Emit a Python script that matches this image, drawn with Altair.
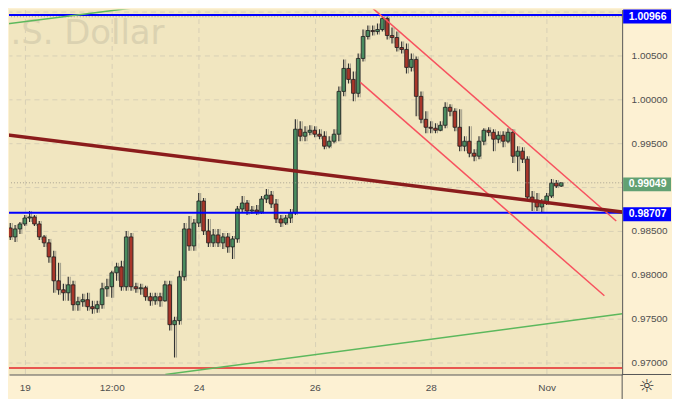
import altair as alt
import pandas as pd

# ---- candle data (2-hour bars; t = hours from 19 Oct 00:00, trading time) ----
t_hours = list(range(-6, 224, 2))

opens = [
    0.98533, 0.98431, 0.98522, 0.98579, 0.98647, 0.98659, 0.98579, 0.98431, 0.98363, 0.98203,
    0.97930, 0.97827, 0.97793, 0.97884, 0.97657, 0.97691, 0.97714, 0.97634, 0.97611, 0.97657,
    0.97839, 0.97862, 0.98021, 0.98089, 0.97862, 0.98431, 0.97862, 0.97839, 0.97850, 0.97748,
    0.97702, 0.97748, 0.97702, 0.97884, 0.97429, 0.97475, 0.97976, 0.98522, 0.98328, 0.98590,
    0.98841, 0.98499, 0.98363, 0.98454, 0.98363, 0.98431, 0.98317, 0.98408, 0.98750, 0.98818,
    0.98727, 0.98738, 0.98716, 0.98864, 0.98909, 0.98807, 0.98636, 0.98590, 0.98647, 0.98704,
    0.99661, 0.99581, 0.99626, 0.99649, 0.99604, 0.99581, 0.99467, 0.99524, 0.99604, 1.00093,
    1.00355, 1.00230, 1.00071, 1.00469, 1.00720, 1.00788, 1.00776, 1.00799, 1.00924, 1.00731,
    1.00708, 1.00594, 1.00572, 1.00367, 1.00458, 1.00036, 0.99774, 0.99683, 0.99672, 0.99649,
    0.99706, 0.99911, 0.99866, 0.99683, 0.99467, 0.99524, 0.99387, 0.99353, 0.99524, 0.99649,
    0.99626, 0.99547, 0.99592, 0.99524, 0.99626, 0.99353, 0.99410, 0.99319, 0.98886, 0.98852,
    0.98773, 0.98829, 0.98898, 0.99046, 0.99012,
]
highs = [
    0.98590, 0.98568, 0.98602, 0.98681, 0.98727, 0.98681, 0.98613, 0.98454, 0.98408, 0.98272,
    0.98135, 0.97896, 0.97976, 0.97930, 0.97748, 0.97782, 0.97793, 0.97702, 0.97702, 0.97907,
    0.97953, 0.98044, 0.98135, 0.98158, 0.98499, 0.98476, 0.97907, 0.97896, 0.97873, 0.97793,
    0.97793, 0.97793, 0.97930, 0.97930, 0.97520, 0.98044, 0.98590, 0.98670, 0.98636, 0.98932,
    0.98875, 0.98636, 0.98522, 0.98522, 0.98476, 0.98476, 0.98442, 0.98784, 0.98898, 0.98852,
    0.98784, 0.98795, 0.98898, 0.98977, 0.98955, 0.98864, 0.98681, 0.98681, 0.98750, 0.99774,
    0.99752, 0.99695, 0.99706, 0.99695, 0.99661, 0.99638, 0.99581, 0.99661, 1.00150, 1.00458,
    1.00412, 1.00321, 1.00526, 1.00799, 1.00845, 1.00845, 1.00868, 1.00966, 1.00947, 1.00822,
    1.00776, 1.00663, 1.00640, 1.00526, 1.00492, 1.00093, 0.99866, 0.99752, 0.99729, 0.99752,
    0.99968, 0.99945, 0.99900, 0.99888, 0.99581, 0.99695, 0.99433, 0.99581, 0.99672, 0.99683,
    0.99661, 0.99638, 0.99638, 0.99672, 0.99661, 0.99467, 0.99456, 0.99353, 0.98955, 0.98932,
    0.98864, 0.98932, 0.99091, 0.99080, 0.99057,
]
lows = [
    0.98397, 0.98374, 0.98465, 0.98556, 0.98602, 0.98556, 0.98397, 0.98317, 0.98135, 0.97793,
    0.97771, 0.97702, 0.97702, 0.97588, 0.97588, 0.97634, 0.97588, 0.97554, 0.97566, 0.97611,
    0.97748, 0.97736, 0.97930, 0.97816, 0.97816, 0.97816, 0.97793, 0.97771, 0.97702, 0.97645,
    0.97657, 0.97634, 0.97691, 0.97361, 0.97053, 0.97429, 0.97930, 0.98272, 0.98272, 0.98545,
    0.98454, 0.98317, 0.98317, 0.98317, 0.98294, 0.98249, 0.98180, 0.98363, 0.98716, 0.98681,
    0.98693, 0.98681, 0.98693, 0.98818, 0.98761, 0.98590, 0.98545, 0.98568, 0.98590, 0.98681,
    0.99524, 0.99524, 0.99592, 0.99570, 0.99547, 0.99433, 0.99444, 0.99501, 0.99524, 1.00036,
    1.00184, 0.99979, 1.00025, 1.00435, 1.00685, 1.00731, 1.00742, 1.00776, 1.00685, 1.00640,
    1.00549, 1.00526, 1.00298, 1.00321, 0.99809, 0.99729, 0.99615, 0.99615, 0.99615, 0.99638,
    0.99672, 0.99809, 0.99638, 0.99410, 0.99410, 0.99342, 0.99296, 0.99319, 0.99478, 0.99581,
    0.99410, 0.99501, 0.99456, 0.99501, 0.99274, 0.99182, 0.99274, 0.98841, 0.98727, 0.98727,
    0.98704, 0.98795, 0.98875, 0.98989, 0.99000,
]
closes = [
    0.98431, 0.98522, 0.98579, 0.98647, 0.98659, 0.98579, 0.98431, 0.98363, 0.98203, 0.97930,
    0.97827, 0.97793, 0.97884, 0.97657, 0.97691, 0.97714, 0.97634, 0.97611, 0.97657, 0.97839,
    0.97862, 0.98021, 0.98089, 0.97862, 0.98431, 0.97862, 0.97839, 0.97850, 0.97748, 0.97702,
    0.97748, 0.97702, 0.97884, 0.97429, 0.97475, 0.97976, 0.98522, 0.98328, 0.98590, 0.98841,
    0.98499, 0.98363, 0.98454, 0.98363, 0.98431, 0.98317, 0.98408, 0.98750, 0.98818, 0.98727,
    0.98738, 0.98716, 0.98864, 0.98909, 0.98807, 0.98636, 0.98590, 0.98647, 0.98704, 0.99661,
    0.99581, 0.99626, 0.99649, 0.99604, 0.99581, 0.99467, 0.99524, 0.99604, 1.00093, 1.00355,
    1.00230, 1.00071, 1.00469, 1.00720, 1.00788, 1.00776, 1.00799, 1.00924, 1.00731, 1.00708,
    1.00594, 1.00572, 1.00367, 1.00458, 1.00036, 0.99774, 0.99683, 0.99672, 0.99649, 0.99706,
    0.99911, 0.99866, 0.99683, 0.99467, 0.99524, 0.99387, 0.99353, 0.99524, 0.99649, 0.99626,
    0.99547, 0.99592, 0.99524, 0.99626, 0.99353, 0.99410, 0.99319, 0.98886, 0.98852, 0.98773,
    0.98829, 0.98898, 0.99046, 0.99012, 0.99049,
]

# ---- drawn objects (endpoints in time/price) ----
trend_maroon_t = [-9.8, 247.3]
trend_maroon_p = [0.99604, 0.98716]
chan_upper_t = [144.2, 244.8]
chan_upper_p = [1.01038, 0.98613]
chan_lower_t = [138.9, 239.9]
chan_lower_p = [1.00196, 0.97759]
green_upper_t = [-9.8, 65.6]
green_upper_p = [1.00856, 1.01118]
green_lower_t = [58.2, 247.3]
green_lower_p = [0.96860, 0.97554]

blue_levels = [1.00966, 0.98707]
red_level = [0.96934]
dotted_levels = [0.99049, 1.00945]

box_prices = [1.00966, 0.99049, 0.98707]
box_labels = ["1.00966", "0.99049", "0.98707"]
box_colors = ["#0000ff", "#62a173", "#0000ff"]

# ---- axes ----
xtick_t = [0, 36, 72, 120, 168, 216]
xtick_labels = ["19", "12:00", "24", "26", "28", "Nov"]
ygrid = [0.970, 0.975, 0.980, 0.985, 0.990, 0.995, 1.000, 1.005, 1.010]
y_hidden = [0.990, 1.010]

X_DOMAIN = [-6.52, 247.25]
Y_DOMAIN = [0.96860, 1.01027]

candles = pd.DataFrame({"t": t_hours, "o": opens, "h": highs, "l": lows, "c": closes})

def seg(ts, ps):
    return pd.DataFrame({"t": ts, "p": ps})

x_label_expr = ""
for tv, lab in zip(xtick_t, xtick_labels):
    x_label_expr += f"datum.value == {tv} ? '{lab}' : "
x_label_expr += "''"

y_hide_expr = " || ".join(f"abs(datum.value - {v}) < 0.0001" for v in y_hidden)
y_label_expr = f"({y_hide_expr}) ? '' : format(datum.value, '.5f')"

GRID = "#d8d0b6"
LABEL = "#4e4e4e"
FONT = "Liberation Sans"
VIEW_W, VIEW_H = 615, 366
XAX_H, YAX_W = 25, 49

xaxis = alt.Axis(values=xtick_t, labelExpr=x_label_expr, title=None, grid=True,
                 gridColor=GRID, gridDash=[5, 4], gridWidth=1, ticks=False, tickSize=0,
                 domain=True, domainColor="#555555", domainWidth=1,
                 labelFontSize=10, labelColor=LABEL, labelFont=FONT, labelPadding=8,
                 labelBaseline="top", minExtent=XAX_H, maxExtent=XAX_H, labelFlush=False)
yaxis = alt.Axis(orient="right", values=ygrid, labelExpr=y_label_expr, title=None, grid=True,
                 gridColor=GRID, gridDash=[5, 4], gridWidth=1, ticks=False, tickSize=0,
                 domain=True, domainColor="#555555", domainWidth=1,
                 labelFontSize=10, labelColor=LABEL, labelFont=FONT, labelPadding=9,
                 labelAlign="left", labelBaseline="middle", minExtent=YAX_W, maxExtent=YAX_W,
                 labelFlush=False)

xs = alt.Scale(domain=X_DOMAIN, nice=False, zero=False, padding=0)
ys = alt.Scale(domain=Y_DOMAIN, nice=False, zero=False, padding=0)

def X(f):
    return alt.X(f, type="quantitative", scale=xs, axis=xaxis)

def Y(f):
    return alt.Y(f, type="quantitative", scale=ys, axis=yaxis)

watermark = alt.Chart(pd.DataFrame({"w": ["U.S. Dollar"]})).mark_text(
    align="right", baseline="alphabetic", fontSize=34, font="DejaVu Sans",
    color="#dbd2b1", clip=True
).encode(text="w:N", x=alt.value(156), y=alt.value(35))

cbase = alt.Chart(candles)
shadow = cbase.mark_rule(color="#a39f8c", strokeWidth=1, xOffset=2, clip=True).encode(
    x=X("t"), y=Y("l"), y2="h")
wick = cbase.mark_rule(color="#333333", strokeWidth=1.2, clip=True).encode(
    x=X("t"), y=Y("l"), y2="h")
body = cbase.mark_bar(size=3.6, stroke="#1e1e1e", strokeWidth=0.8, clip=True).encode(
    x=X("t"), y=Y("o"), y2="c",
    color=alt.condition("datum.c >= datum.o", alt.value("#4a8c60"), alt.value("#a8362a")))

dotted = alt.Chart(pd.DataFrame({"p": dotted_levels})).mark_rule(
    color="#a8a290", strokeWidth=1, strokeDash=[1, 2]).encode(y=Y("p"))
blue = alt.Chart(pd.DataFrame({"p": blue_levels})).mark_rule(
    color="#0000ff", strokeWidth=2).encode(y=Y("p"))
redh = alt.Chart(pd.DataFrame({"p": red_level})).mark_rule(
    color="#e8564f", strokeWidth=2).encode(y=Y("p"))

def line(ts, ps, color, width):
    return alt.Chart(seg(ts, ps)).mark_line(color=color, strokeWidth=width, clip=True).encode(
        x=X("t"), y=Y("p"))

lines = [
    line(green_upper_t, green_upper_p, "#5cb85c", 1.5),
    line(green_lower_t, green_lower_p, "#5cb85c", 1.5),
    line(chan_upper_t, chan_upper_p, "#f7525f", 1.5),
    line(chan_lower_t, chan_lower_p, "#f7525f", 1.5),
    line(trend_maroon_t, trend_maroon_p, "#8b1c1c", 3.5),
]

BOX_X = VIEW_W + YAX_W / 2
boxes_df = pd.DataFrame({"p": box_prices, "lab": box_labels, "col": box_colors})
boxes = alt.Chart(boxes_df).mark_tick(orient="horizontal", size=YAX_W - 1, thickness=14,
                                      opacity=1, clip=False, yOffset=1.6).encode(
    y=Y("p"), x=alt.value(BOX_X + 0.5),
    color=alt.Color("col:N", scale=None))
box_text = alt.Chart(boxes_df).mark_text(color="white", fontSize=10.5, fontWeight="bold",
                                         font=FONT, align="center", baseline="middle",
                                         clip=False, yOffset=1.6).encode(
    y=Y("p"), x=alt.value(BOX_X + 1), text="lab:N")

frame_v = alt.Chart(pd.DataFrame({"k": [0]})).mark_rule(color="#555555", strokeWidth=1).encode(
    x=alt.value(VIEW_W), y=alt.value(VIEW_H), y2=alt.value(VIEW_H + XAX_H))
frame_h = alt.Chart(pd.DataFrame({"k": [0]})).mark_rule(color="#555555", strokeWidth=1).encode(
    x=alt.value(VIEW_W), x2=alt.value(VIEW_W + YAX_W), y=alt.value(VIEW_H))
gear = alt.Chart(pd.DataFrame({"g": ["☼"]})).mark_text(
    fontSize=18, color="#333333", font="DejaVu Sans", align="center", baseline="middle"
).encode(text="g:N", x=alt.value(BOX_X), y=alt.value(VIEW_H + 13))

chart = alt.layer(
    watermark, shadow, wick, body, dotted, blue, redh, *lines, boxes, box_text,
    frame_v, frame_h, gear
).properties(
    width=VIEW_W, height=VIEW_H,
    padding=0, background="#fdf1d3"
).configure_view(fill="#f1e6c0", stroke=None)

chart.save("out.html", embed_options={"renderer": "svg", "actions": False})
